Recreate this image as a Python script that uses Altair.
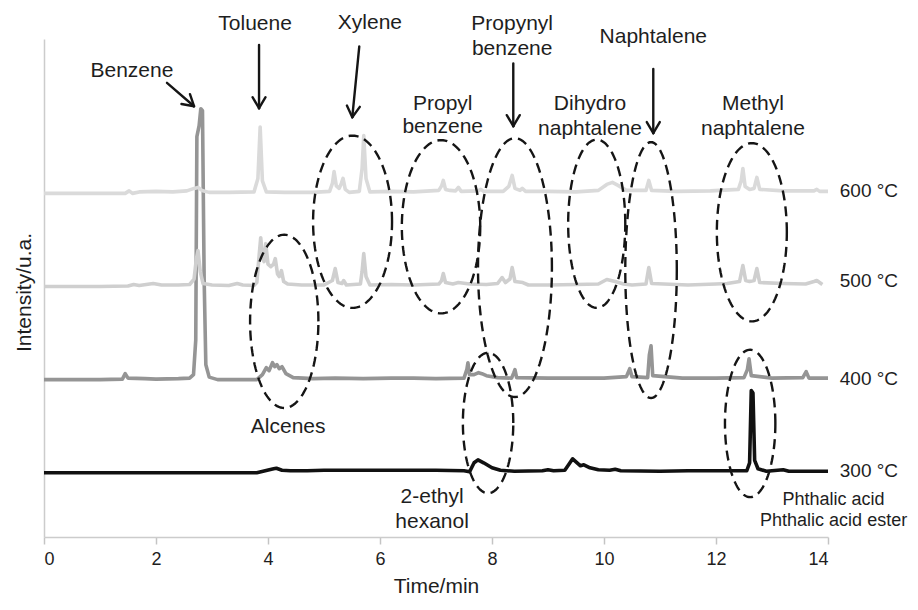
import altair as alt
import pandas as pd
import numpy as np

# ---------------- data ----------------
series_names = ["600 °C", "500 °C", "400 °C", "300 °C"]
series_offsets = [69.0, 50.3, 31.6, 12.9]
series_colors = ["#dadada", "#cfcfcf", "#959595", "#111111"]

trace_600 = [(0, 0), (0.8, 0), (1.45, 0), (1.52, 0.5), (1.58, 0), (1.7, 0.3), (2.0, 0.4), (2.3, 0.3),
             (2.55, 0.5), (2.68, 1.0), (2.75, 1.2), (2.82, 0.6), (2.95, 0.2), (3.3, 0.2), (3.75, 0.3),
             (3.82, 3.0), (3.86, 13.3), (3.9, 2.5), (3.97, 0.3), (4.3, 0.2), (4.8, 0.2), (5.1, 0.4),
             (5.15, 2.0), (5.18, 4.4), (5.22, 1.5), (5.27, 1.0), (5.31, 2.0), (5.34, 3.0), (5.38, 0.8),
             (5.45, 0.2), (5.63, 0.4), (5.68, 5.0), (5.71, 11.6), (5.75, 3.0), (5.82, 0.3), (6.2, 0.4),
             (6.6, 0.3), (7.05, 0.6), (7.1, 1.5), (7.13, 2.6), (7.17, 0.8), (7.25, 0.6), (7.35, 0.5),
             (7.4, 1.2), (7.45, 0.4), (7.75, 0.5), (7.8, 0.8), (7.85, 0.4), (8.2, 0.4), (8.3, 1.4),
             (8.36, 3.6), (8.41, 1.0), (8.5, 0.6), (8.54, 1.0), (8.6, 0.4), (9.0, 0.4), (9.5, 0.3),
             (9.9, 0.6), (10.05, 1.8), (10.15, 2.2), (10.25, 1.6), (10.4, 0.6), (10.75, 0.6), (10.8, 2.6),
             (10.85, 0.6), (11.3, 0.4), (11.9, 0.5), (12.4, 0.8), (12.45, 2.5), (12.48, 5.0), (12.52, 1.4),
             (12.6, 0.8), (12.68, 1.0), (12.73, 3.2), (12.78, 0.8), (13.2, 0.5), (13.75, 0.5), (13.8, 0.8),
             (13.85, 0.4), (14.0, 0.4)]

trace_500 = [(0, 0), (1.0, 0), (1.5, 0.1), (1.6, 0.4), (1.7, 0.2), (1.95, 0.6), (2.1, 0.3), (2.4, 0.3),
             (2.6, 0.4), (2.68, 1.5), (2.72, 5.5), (2.75, 7.2), (2.79, 3.0), (2.84, 0.6), (3.0, 0.3),
             (3.3, 0.2), (3.45, 0.6), (3.55, 0.3), (3.75, 0.2), (3.8, 0.8), (3.84, 6.0), (3.87, 9.8),
             (3.9, 6.0), (3.93, 5.0), (3.96, 8.6), (4.0, 4.5), (4.05, 4.0), (4.1, 4.5), (4.13, 5.6),
             (4.17, 2.5), (4.2, 2.0), (4.24, 3.2), (4.28, 1.0), (4.35, 0.5), (4.6, 0.3), (5.0, 0.3),
             (5.15, 1.2), (5.2, 3.6), (5.25, 0.8), (5.32, 0.6), (5.35, 1.2), (5.4, 0.3), (5.65, 0.5),
             (5.68, 3.0), (5.71, 6.6), (5.75, 2.0), (5.82, 0.3), (6.2, 0.4), (6.6, 0.3), (7.05, 0.5),
             (7.1, 1.2), (7.13, 2.6), (7.17, 0.8), (7.3, 0.5), (7.4, 0.8), (7.6, 0.5), (7.9, 0.4),
             (8.1, 0.6), (8.18, 1.8), (8.24, 0.8), (8.32, 1.5), (8.36, 3.8), (8.41, 1.0), (8.55, 0.8),
             (8.65, 0.3), (9.0, 0.3), (9.5, 0.4), (9.9, 0.5), (10.05, 1.4), (10.2, 1.0), (10.35, 0.5),
             (10.5, 0.3), (10.75, 0.5), (10.8, 3.8), (10.85, 0.6), (11.5, 0.3), (12.0, 0.5), (12.2, 0.6),
             (12.42, 1.0), (12.48, 4.2), (12.53, 1.2), (12.6, 1.0), (12.68, 1.2), (12.73, 3.6), (12.78, 0.8),
             (13.2, 0.6), (13.6, 0.5), (13.75, 1.0), (13.8, 1.2), (13.9, 0.4)]

trace_400 = [(0, 0), (1.0, 0), (1.4, 0.1), (1.45, 1.2), (1.5, 0.3), (1.8, 0.2), (2.0, 0.1), (2.4, 0.2),
             (2.6, 0.3), (2.67, 1.0), (2.71, 8.0), (2.73, 48.8), (2.77, 51.0), (2.8, 54.4), (2.83, 54.0),
             (2.86, 20.0), (2.89, 3.0), (2.95, 0.5), (3.1, 0), (3.8, 0), (3.9, 1.0), (3.97, 2.4),
             (4.02, 1.8), (4.08, 3.4), (4.12, 2.6), (4.16, 3.0), (4.2, 2.2), (4.25, 2.6), (4.32, 1.2),
             (4.45, 0.4), (4.8, 0.2), (5.2, 0.3), (5.7, 0.2), (6.2, 0.3), (6.6, 0.3), (7.0, 0.2),
             (7.5, 0.3), (7.55, 2.0), (7.57, 3.4), (7.6, 1.0), (7.68, 1.0), (7.76, 1.4), (7.82, 1.2),
             (7.9, 0.8), (8.1, 0.4), (8.35, 0.3), (8.39, 1.4), (8.41, 2.0), (8.44, 0.4), (9.0, 0.3),
             (9.5, 0.3), (10.0, 0.3), (10.4, 0.6), (10.46, 2.2), (10.5, 0.6), (10.78, 0.4), (10.81, 5.0),
             (10.84, 6.8), (10.87, 0.8), (11.4, 0.3), (12.0, 0.3), (12.5, 0.4), (12.56, 2.0), (12.59, 4.2),
             (12.63, 0.8), (13.0, 0.3), (13.55, 0.4), (13.61, 1.6), (13.66, 0.3), (14.0, 0.3)]

trace_300 = [(0, 0), (3.8, 0), (3.95, 0.4), (4.1, 0.8), (4.15, 0.9), (4.25, 0.5), (4.4, 0.4), (4.7, 0.4),
             (5.0, 0.5), (6.0, 0.5), (7.0, 0.5), (7.5, 0.4), (7.6, 0.2), (7.68, 2.0), (7.75, 2.6),
             (7.85, 2.0), (8.0, 1.0), (8.15, 0.5), (8.4, 0.3), (8.9, 0.4), (9.0, 0.6), (9.1, 0.4),
             (9.3, 0.5), (9.38, 1.8), (9.44, 2.8), (9.52, 2.0), (9.58, 1.4), (9.64, 1.6), (9.75, 1.0),
             (9.9, 0.6), (10.1, 0.5), (10.2, 0.7), (10.3, 0.4), (11.0, 0.3), (11.5, 0.4), (12.0, 0.4),
             (12.55, 0.4), (12.6, 2.0), (12.63, 16.5), (12.66, 16.0), (12.69, 2.5), (12.75, 0.8),
             (12.9, 0.3), (13.2, 0.6), (13.3, 0.3), (14.0, 0.3)]

traces = [trace_600, trace_500, trace_400, trace_300]

x_ticks = [0, 2, 4, 6, 8, 10, 12, 14]

label_text = ["Benzene", "Toluene", "Xylene", "Propyl", "benzene", "Propynyl", "benzene",
              "Naphtalene", "Dihydro", "naphtalene", "Methyl", "naphtalene", "Alcenes",
              "2-ethyl", "hexanol"]
label_t = [1.57, 3.77, 5.82, 7.12, 7.12, 8.36, 8.36, 10.88, 9.75, 9.75, 12.66, 12.66, 4.36, 6.93, 6.93]
label_v = [92.4, 101.8, 102.0, 85.7, 81.1, 101.8, 96.8, 99.2, 85.7, 80.7, 85.7, 80.7, 20.9, 6.8, 1.8]

phthalic_text = ["Phthalic acid", "Phthalic acid ester"]
phthalic_t = [14.1, 14.1]
phthalic_v = [6.4, 2.2]

series_label_t = [14.21, 14.21, 14.21, 14.21]
series_label_v = [68.3, 50.2, 30.5, 12.0]

arrow_t1 = [2.196, 3.84, 5.63, 8.38, 10.88]
arrow_v1 = [91.2, 98.8, 98.5, 95.1, 94.0]
arrow_t2 = [2.679, 3.84, 5.505, 8.38, 10.88]
arrow_v2 = [86.5, 86.1, 84.3, 82.5, 81.1]

ellipse_names = ["Alcenes", "Xylene", "Propyl", "Propynyl", "Ethylhexanol", "Dihydro",
                 "Naphtalene", "Methyl", "Phthalic"]
ellipse_ct = [4.29, 5.51, 7.09, 8.41, 7.93, 9.87, 10.84, 12.64, 12.61]
ellipse_cv = [43.3, 63.3, 62.3, 54.1, 22.9, 62.9, 53.6, 61.2, 22.8]
ellipse_rt = [0.61, 0.705, 0.70, 0.66, 0.45, 0.51, 0.46, 0.625, 0.45]
ellipse_rv = [17.4, 17.3, 17.4, 26.0, 14.1, 16.9, 25.7, 17.9, 14.8]

# ---------------- layout ----------------
W, H = 784, 498
T_MAX, V_MAX = 14, 100
PX_T = W / T_MAX
PX_V = H / V_MAX
FONT = "Liberation Sans"
TXT = "#1e1e1e"

x_scale = alt.Scale(domain=[0, T_MAX], nice=False, zero=False)
y_scale = alt.Scale(domain=[0, V_MAX], nice=False, zero=False)
x_axis = alt.Axis(title="Time/min", values=x_ticks, format="d", grid=False,
                  tickSize=7, tickWidth=1.5, tickColor="#c4c4c4",
                  domainColor="#cccccc", domainWidth=1.5,
                  labelFontSize=18, labelColor=TXT, labelPadding=6, labelFont=FONT,
                  titleFontSize=21, titleFontWeight="normal", titleColor=TXT, titleFont=FONT,
                  titlePadding=7)
y_axis = alt.Axis(title="Intensity/u.a.", labels=False, ticks=False, grid=False,
                  domainColor="#cccccc", domainWidth=1.5,
                  titleFontSize=21, titleFontWeight="normal", titleColor=TXT, titleFont=FONT,
                  titlePadding=10, titleY=253)

X = lambda f="t": alt.X(f"{f}:Q", scale=x_scale, axis=x_axis)
Y = lambda f="v": alt.Y(f"{f}:Q", scale=y_scale, axis=y_axis)

# traces (400 first, then 300, then 500, 600 on top)
layers = []
for idx in [2, 3, 1, 0]:
    pts = traces[idx]
    df = pd.DataFrame({"t": [p[0] for p in pts],
                       "v": [p[1] + series_offsets[idx] for p in pts],
                       "i": list(range(len(pts)))})
    layers.append(
        alt.Chart(df).mark_line(color=series_colors[idx], strokeWidth=3.6,
                                strokeJoin="round", clip=False)
        .encode(x=X(), y=Y(), order="i:Q")
    )

# dashed ellipses (annotation outlines, centred on the labelled peaks)
ang = np.linspace(0, 2 * np.pi, 121)
rows = []
for n, ct, cv, rt, rv in zip(ellipse_names, ellipse_ct, ellipse_cv, ellipse_rt, ellipse_rv):
    for k, a in enumerate(ang):
        rows.append({"e": n, "i": k, "t": ct + rt * np.cos(a), "v": cv + rv * np.sin(a)})
ell_df = pd.DataFrame(rows)
layers.append(
    alt.Chart(ell_df).mark_line(color="#151515", strokeWidth=2.4, strokeDash=[10, 6], clip=False)
    .encode(x=X(), y=Y(), detail="e:N", order="i:Q")
)

# arrows: shafts and open chevron heads
seg = []
for t1, v1, t2, v2 in zip(arrow_t1, arrow_v1, arrow_t2, arrow_v2):
    seg.append({"t": t1, "v": v1, "t2": t2, "v2": v2})
    dx = (t2 - t1) * PX_T
    dy = -(v2 - v1) * PX_V
    L = np.hypot(dx, dy)
    ux, uy = dx / L, dy / L
    px, py = -uy, ux
    for s in (1, -1):
        wx = -11 * ux + s * 6.5 * px
        wy = -11 * uy + s * 6.5 * py
        seg.append({"t": t2 + wx / PX_T, "v": v2 - wy / PX_V, "t2": t2, "v2": v2})
arr_df = pd.DataFrame(seg)
layers.append(
    alt.Chart(arr_df).mark_rule(color="#151515", strokeWidth=2.4, strokeCap="round")
    .encode(x=X(), y=Y(), x2="t2:Q", y2="v2:Q")
)

# compound labels
lab_df = pd.DataFrame({"t": label_t, "v": label_v, "txt": label_text})
layers.append(
    alt.Chart(lab_df).mark_text(font=FONT, fontSize=21, color=TXT, align="center",
                                baseline="alphabetic")
    .encode(x=X(), y=Y(), text="txt:N")
)
ph_df = pd.DataFrame({"t": phthalic_t, "v": phthalic_v, "txt": phthalic_text})
layers.append(
    alt.Chart(ph_df).mark_text(font=FONT, fontSize=18, color=TXT, align="center",
                               baseline="alphabetic")
    .encode(x=X(), y=Y(), text="txt:N")
)
ser_df = pd.DataFrame({"t": series_label_t, "v": series_label_v, "txt": series_names})
layers.append(
    alt.Chart(ser_df).mark_text(font=FONT, fontSize=19, color=TXT, align="left",
                                baseline="alphabetic")
    .encode(x=X(), y=Y(), text="txt:N")
)

chart = alt.layer(*layers).properties(
    width=W, height=H,
    autosize=alt.AutoSizeParams(type="none"),
    padding={"left": 36, "top": 31, "right": 82, "bottom": 61},
    background="white",
).configure_view(stroke=None).configure_text(font=FONT)

chart.save("out.html", embed_options={"renderer": "svg", "actions": False})
